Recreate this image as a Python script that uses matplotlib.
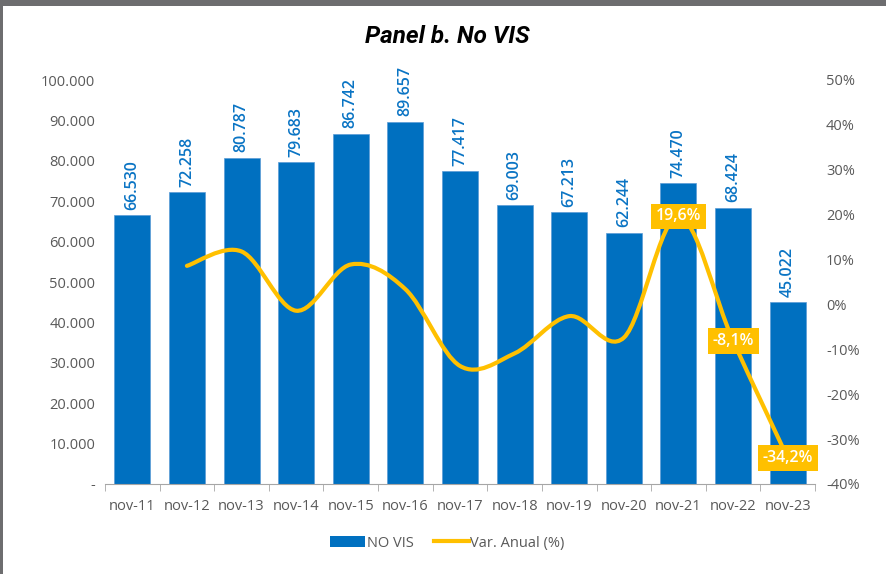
import numpy as np
import matplotlib.pyplot as plt
from matplotlib.path import Path
from matplotlib.patches import PathPatch, Patch, Rectangle
from matplotlib.lines import Line2D

# data
meses = ["nov-11", "nov-12", "nov-13", "nov-14", "nov-15", "nov-16", "nov-17",
         "nov-18", "nov-19", "nov-20", "nov-21", "nov-22", "nov-23"]
no_vis = [66530, 72258, 80787, 79683, 86742, 89657, 77417,
          69003, 67213, 62244, 74470, 68424, 45022]
var_anual = [None, 8.6, 11.8, -1.4, 8.9, 3.4, -13.7,
             -10.9, -2.6, -7.4, 19.6, -8.1, -34.2]
etiquetados = [10, 11, 12]  # points with a label box

azul = "#0070C0"
amarillo = "#FFC000"
gris = "#595959"

plt.rcParams['font.family'] = ['Open Sans', 'DejaVu Sans']

fig = plt.figure(figsize=(8.86, 5.74), dpi=100)
fig.patch.set_facecolor("#6d6d6f")
fig.patches.append(Rectangle((3/886, 0), 1, 1 - 6/574, transform=fig.transFigure,
                             facecolor="white", edgecolor="none", zorder=-10))

ax = fig.add_axes([105/886, 1 - 484/574, 710/886, 404/574])
ax.set_facecolor("none")
x = np.arange(len(meses))
ax.bar(x, no_vis, width=0.66, color=azul, edgecolor="#5b9bd5", linewidth=0.5, zorder=2)
for i, v in enumerate(no_vis):
    ax.annotate(f"{v:,}".replace(",", "."), (i, v), xytext=(0, 4), textcoords="offset points",
                rotation=90, ha="center", va="bottom", color="#0a74c4", fontsize=11.5,
                fontweight="semibold", zorder=3)

ax.set_xlim(-0.5, len(meses) - 0.5)
ax.set_ylim(0, 100000)
ax.set_yticks(np.arange(0, 100001, 10000))
ax.set_yticklabels(["-"] + [f"{v:,}".replace(",", ".") for v in range(10000, 100001, 10000)])
ax.set_xticks(x)
ax.set_xticklabels(meses)
ax.set_xticks(np.arange(-0.5, len(meses), 1), minor=True)
ax.tick_params(axis="x", which="major", length=0, pad=11, labelsize=10.5, labelcolor=gris)
ax.tick_params(axis="x", which="minor", length=5, color="#a6a6a6", direction="out")
ax.tick_params(axis="y", length=0, pad=7, labelsize=10.5, labelcolor=gris)
for s in ["top", "left", "right"]:
    ax.spines[s].set_visible(False)
ax.spines["bottom"].set_color("#a6a6a6")

ax2 = ax.twinx()
ax2.set_ylim(-40, 50)
ax2.set_yticks(np.arange(-40, 51, 10))
ax2.set_yticklabels([f"{v}%" for v in range(-40, 51, 10)])
ax2.tick_params(axis="y", length=0, pad=8, labelsize=10.5, labelcolor=gris)
for s in ax2.spines.values():
    s.set_visible(False)

# smoothed line (Catmull-Rom style bezier, like the spreadsheet smoothing)
pts = [(i, v) for i, v in enumerate(var_anual) if v is not None]
pts = np.array(pts, dtype=float)
verts = [tuple(pts[0])]
codes = [Path.MOVETO]
n = len(pts)
for k in range(n - 1):
    p0 = pts[k - 1] if k > 0 else pts[k]
    p1 = pts[k]
    p2 = pts[k + 1]
    p3 = pts[k + 2] if k + 2 < n else pts[k + 1]
    c1 = p1 + (p2 - p0) / 6
    c2 = p2 - (p3 - p1) / 6
    verts += [tuple(c1), tuple(c2), tuple(p2)]
    codes += [Path.CURVE4] * 3
ax2.add_patch(PathPatch(Path(verts, codes), facecolor="none", edgecolor=amarillo,
                        linewidth=3, capstyle="round", joinstyle="round", zorder=3))

for i in etiquetados:
    v = var_anual[i]
    ax2.text(i, v, f"{v:.1f}%".replace(".", ","), ha="center", va="center",
             color="white", fontsize=11.5, fontweight="semibold", zorder=5,
             bbox=dict(boxstyle="square,pad=0.3", facecolor=amarillo, edgecolor="none"))

fig.text(0.505, 0.937, "Panel b. No VIS", ha="center", va="center", fontsize=17.5,
         fontweight="bold", fontstyle="italic", family=["Roboto", "DejaVu Sans"])

handles = [Patch(facecolor=azul, edgecolor="none"),
           Line2D([0], [0], color=amarillo, linewidth=3)]
fig.legend(handles, ["NO VIS", "Var. Anual (%)"], loc="center", bbox_to_anchor=(0.505, 0.054),
           ncol=2, frameon=False, fontsize=10.5, labelcolor=gris, handlelength=2.4,
           handletextpad=0.1, columnspacing=1.4)

fig.savefig("out.png", dpi=100, facecolor=fig.get_facecolor())
